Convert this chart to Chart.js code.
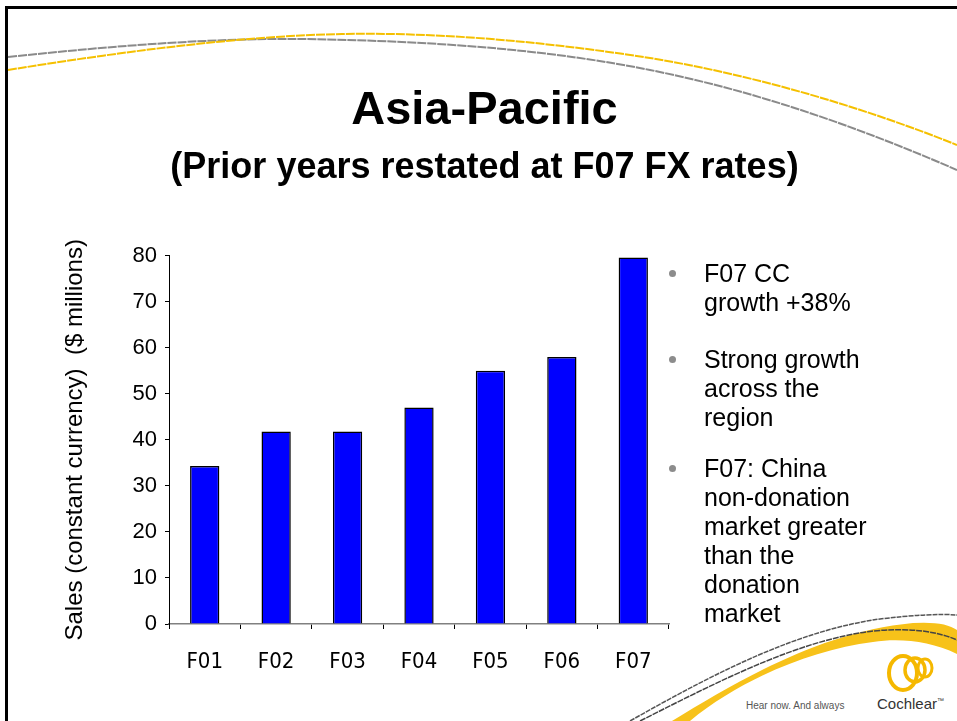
<!DOCTYPE html>
<html lang="en">
<head>
    <meta charset="UTF-8">
    <title>Asia-Pacific sales</title>
    <script src="https://cdn.jsdelivr.net/npm/chart.js"></script>
    <style>
        body {
            margin: 0;
            background: #fff;
            font-family: "Liberation Sans", Arial, sans-serif;
        }
        .slide {
            position: relative;
            width: 957px;
            height: 721px;
            overflow: hidden;
        }
        .slide svg, .slide canvas {
            position: absolute;
            left: 0;
            top: 0;
        }
        .note {
            position: absolute;
            left: 704px;
            font-size: 25px;
            line-height: 29px;
            color: #000;
        }
        .note::before {
            content: '';
            position: absolute;
            left: -35px;
            top: 10.5px;
            width: 7px;
            height: 7px;
            border-radius: 50%;
            background: #8c8c8c;
        }
    </style>
</head>
<body>
<div class="slide">
    <svg width="957" height="721">
        <!-- slide frame -->
        <line x1="5" y1="7.5" x2="957" y2="7.5" stroke="#000" stroke-width="3"/>
        <line x1="6.5" y1="6" x2="6.5" y2="721" stroke="#000" stroke-width="3"/>
        <!-- top swooshes -->
        <path d="M8,57 C120,45 220,38 300,39 C450,41 560,52 650,70 C760,92 860,128 957,170"
              fill="none" stroke="#8a8a8a" stroke-width="2" stroke-dasharray="9 1"/>
        <path d="M8,70 C120,52 240,36 342,34 C450,32 560,44 650,58 C760,76 870,110 957,145"
              fill="none" stroke="#f5c000" stroke-width="2" stroke-dasharray="9 1"/>
        <!-- bottom right swoosh -->
        <path d="M630,721 C720,670 800,630 880,619 Q930,613 957,615"
              fill="none" stroke="#555" stroke-width="1.5" stroke-dasharray="5 1"/>
        <path d="M672,721 C740,680 820,632 913,623 Q945,621 957,630 L957,654 C930,641 900,638 873,642 C810,650 740,680 690,721 Z"
              fill="#f7c21a"/>
        <path d="M640,721 C725,678 800,640 873,631 Q925,626 957,640"
              fill="none" stroke="#444" stroke-width="1.5" stroke-dasharray="6 1"/>
        <!-- logo -->
        <ellipse cx="903" cy="673" rx="14" ry="17" fill="none" stroke="#f5b800" stroke-width="4"/>
        <ellipse cx="915" cy="670" rx="10" ry="12" fill="none" stroke="#f5b800" stroke-width="3.5"/>
        <ellipse cx="925" cy="668" rx="7" ry="9" fill="none" stroke="#f5b800" stroke-width="3"/>
        <text x="877" y="709" font-family="Liberation Sans, Arial, sans-serif" font-size="15" fill="#333">Cochlear<tspan font-size="7" dy="-6">™</tspan></text>
        <text x="746" y="709" font-family="Liberation Sans, Arial, sans-serif" font-size="10" fill="#555">Hear now. And always</text>
    </svg>
    <canvas id="salesChart" width="957" height="721"></canvas>
    <div class="note" style="top:259px">F07 CC<br>growth +38%</div>
    <div class="note" style="top:345px">Strong growth<br>across the<br>region</div>
    <div class="note" style="top:454px">F07: China<br>non-donation<br>market greater<br>than the<br>donation<br>market</div>
</div>

<script>
    // sales in $ millions, constant currency
    const years = ['F01', 'F02', 'F03', 'F04', 'F05', 'F06', 'F07'];
    const sales = [34.3, 41.8, 41.8, 47, 55, 58, 79.6];
    const salesTicks = [0, 10, 20, 30, 40, 50, 60, 70, 80];

    const narrowFont = '"Liberation Sans Narrow", "Arial Narrow", "DejaVu Sans Condensed", sans-serif';
    Chart.defaults.font.family = '"Liberation Sans", Arial, sans-serif';
    Chart.defaults.color = '#000';

    const ctx = document.getElementById('salesChart').getContext('2d');
    const salesChart = new Chart(ctx, {
        type: 'bar',
        data: {
            labels: years,
            datasets: [{
                data: sales,
                backgroundColor: '#0000ff',
                borderColor: '#000',
                borderWidth: 1.5,
                barPercentage: 0.41,
                categoryPercentage: 1
            }]
        },
        options: {
            responsive: false,
            animation: false,
            layout: {
                padding: { left: 61, right: 49, top: 0, bottom: 37 }
            },
            plugins: {
                legend: { display: false },
                tooltip: { enabled: false },
                title: {
                    display: true,
                    text: 'Asia-Pacific',
                    color: '#000',
                    font: { size: 47, weight: 'bold' },
                    padding: { top: 83, bottom: 0 }
                },
                subtitle: {
                    display: true,
                    text: '(Prior years restated at F07 FX rates)',
                    color: '#000',
                    font: { size: 36, weight: 'bold' },
                    padding: { top: 7, bottom: 66 }
                }
            },
            scales: {
                x: {
                    grid: {
                        drawOnChartArea: false,
                        offset: true,
                        tickLength: 5,
                        color: '#000'
                    },
                    border: { color: '#808080', width: 1.5 },
                    ticks: {
                        font: { family: narrowFont, size: 22 },
                        color: '#000',
                        padding: 20
                    },
                    afterFit(scale) { scale.height = 60; }
                },
                y: {
                    min: salesTicks[0],
                    max: salesTicks[salesTicks.length - 1],
                    ticks: {
                        stepSize: salesTicks[1] - salesTicks[0],
                        font: { size: 22 },
                        color: '#000',
                        padding: 8
                    },
                    grid: {
                        drawOnChartArea: false,
                        tickLength: 4,
                        color: '#000'
                    },
                    border: { color: '#000', width: 1 },
                    title: {
                        display: true,
                        text: 'Sales (constant currency)  ($ millions)',
                        font: { size: 24 },
                        color: '#000',
                        padding: 0
                    },
                    afterFit(scale) { scale.width = 108; }
                },
                // empty axis that keeps room for the notes on the right
                notes: {
                    type: 'linear',
                    position: 'right',
                    grid: { display: false },
                    ticks: { display: false },
                    border: { display: false },
                    afterFit(scale) { scale.width = 239; }
                }
            }
        }
    });
</script>
</body>
</html>
